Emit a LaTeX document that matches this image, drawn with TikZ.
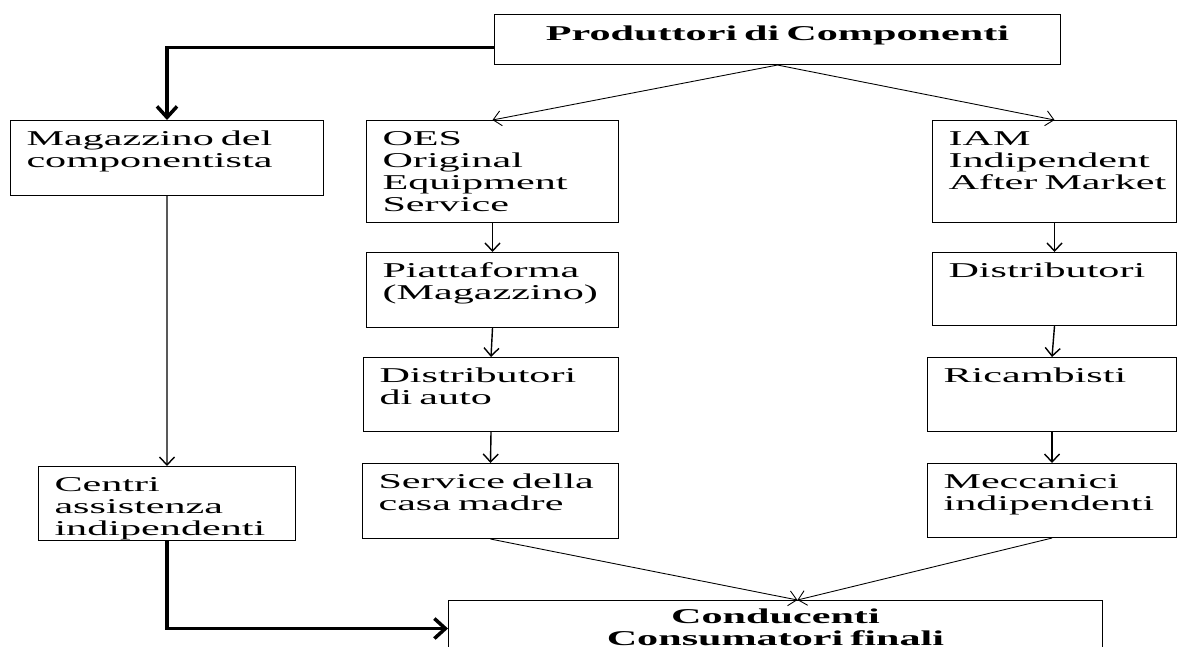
\documentclass[tikz,border=0pt]{standalone}
\usepackage{fontspec}
\setmainfont{Liberation Serif}[FakeStretch=2.0]
\usetikzlibrary{arrows.meta}

\begin{document}
\begin{tikzpicture}[x=0.02cm, y=-0.02cm,
    casella/.style ={draw, line width=0.6pt, anchor=north west, inner xsep=0.32cm,
      inner ysep=0pt, align=left, text height=0.5cm, font=\fontsize{12pt}{12.5pt}\selectfont},
    titolo/.style ={casella, align=center, font=\fontsize{12pt}{12.5pt}\selectfont\bfseries},
    freccia/.style ={line width=0.8pt, -{Straight Barb[length=0.16cm, width=0.3cm]}},
    diagonale/.style ={line width=0.5pt, -{Straight Barb[length=0.16cm, width=0.3cm]}},
    grossa/.style ={line width=2pt, -{Straight Barb[length=0.22cm, width=0.4cm]}}]
   \useasboundingbox (0,0) rectangle (1179,646);

   \node[titolo, text width=10.68cm, text height=0.52cm, text depth=0.48cm] (prod) at (494,14) {Produttori di Componenti};
   \node[casella, text width=5.62cm, text depth=1.0cm] (mag) at (10,120) {\mbox{Magazzino del}\\componentista};
   \node[casella, text width=4.4cm, text depth=1.54cm] (oes) at (366,120) {OES\\Original\\Equipment\\Service};
   \node[casella, text width=4.24cm, text depth=1.54cm] (iam) at (932,120) {IAM\\Indipendent\\\mbox{After Market}};
   \node[casella, text width=4.4cm, text depth=1.0cm] (piatt) at (366,252) {Piattaforma\\(Magazzino)};
   \node[casella, text width=4.24cm, text depth=0.96cm] (distr) at (932,252) {Distributori};
   \node[casella, text width=4.46cm, text depth=0.98cm] (dauto) at (363,357) {Distributori\\di auto};
   \node[casella, text width=4.34cm, text depth=0.98cm] (ric) at (927,357) {Ricambisti};
   \node[casella, text width=4.48cm, text depth=1.0cm] (service) at (362,463) {\mbox{Service della}\\casa madre};
   \node[casella, text width=4.34cm, text depth=0.98cm] (mecc) at (927,463) {Meccanici\\indipendenti};
   \node[casella, text width=4.5cm, text depth=0.98cm] (centri) at (38,466) {Centri\\assistenza\\indipendenti};
   \node[titolo, text width=12.44cm, text height=0.46cm, text depth=0.66cm] (cond) at (448,600) {Conducenti\\Consumatori finali};

   \draw[grossa] ([yshift=-0.16cm]prod.west) -| (mag.north);
   \draw[diagonale] (prod.south) to (oes.north);
   \draw[diagonale] (prod.south) to (iam.north);
   \draw[freccia] (oes.south) to (piatt.north);
   \draw[freccia] (piatt.south) to (dauto.north);
   \draw[freccia] (dauto.south) to (service.north);
   \draw[freccia] (iam.south) to (distr.north);
   \draw[freccia] (distr.south) to (ric.north);
   \draw[freccia] (ric.south) to (mecc.north);
   \draw[freccia] (mag.south) to (centri.north);
   \draw[grossa] (centri.south) |- (cond.west);
   \draw[diagonale] (service.south) to ([xshift=0.44cm]cond.north);
   \draw[diagonale] (mecc.south) to ([xshift=0.44cm]cond.north);
 \end{tikzpicture}
\end{document}
